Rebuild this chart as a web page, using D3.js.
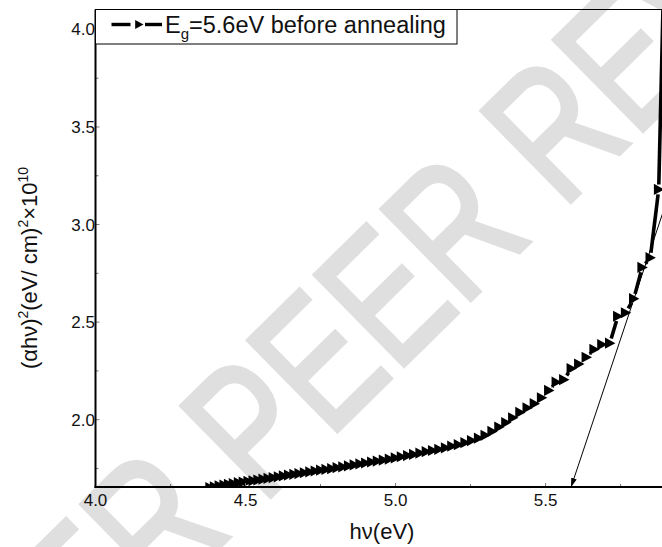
<!DOCTYPE html>
<html>
<head>
<meta charset="utf-8">
<script src="https://cdn.jsdelivr.net/npm/d3@7"></script>
<style>
  html, body { margin: 0; padding: 0; background: #fff; }
  svg { display: block; font-family: Arial, "Liberation Sans", sans-serif; }
</style>
</head>
<body>
<svg id="chart" width="662" height="547"></svg>
<script>
// ---- data ----
const photonEnergy = [
  4.382, 4.397, 4.413, 4.429, 4.444, 4.460, 4.477, 4.493, 4.509, 4.526,
  4.542, 4.559, 4.576, 4.593, 4.610, 4.627, 4.644, 4.662, 4.679, 4.697,
  4.715, 4.733, 4.751, 4.769, 4.788, 4.806, 4.825, 4.844, 4.863, 4.882,
  4.901, 4.921, 4.940, 4.960, 4.980, 5.000, 5.020, 5.041, 5.061, 5.082,
  5.103, 5.124, 5.145, 5.167, 5.188, 5.210, 5.232, 5.254, 5.277, 5.299,
  5.322, 5.345, 5.368, 5.391, 5.415, 5.439, 5.463, 5.487, 5.511, 5.536,
  5.561, 5.586, 5.611, 5.636, 5.662, 5.688, 5.714, 5.741, 5.767, 5.794,
  5.822, 5.849, 5.877, 5.905
];
const alphaHvSquared = [
  1.652, 1.656, 1.661, 1.665, 1.669, 1.673, 1.677, 1.680, 1.684, 1.687,
  1.691, 1.695, 1.699, 1.703, 1.707, 1.712, 1.716, 1.720, 1.724, 1.728,
  1.732, 1.737, 1.741, 1.745, 1.749, 1.754, 1.758, 1.763, 1.768, 1.773,
  1.778, 1.783, 1.788, 1.793, 1.798, 1.804, 1.810, 1.816, 1.822, 1.829,
  1.836, 1.842, 1.848, 1.856, 1.864, 1.872, 1.882, 1.893, 1.905, 1.920,
  1.940, 1.962, 1.985, 2.010, 2.037, 2.060, 2.082, 2.112, 2.150, 2.192,
  2.205, 2.262, 2.285, 2.320, 2.360, 2.385, 2.392, 2.530, 2.548, 2.620,
  2.780, 2.830, 3.180, 5.000
];
// tangent (extrapolation) line to the axis: Eg intercept
const tangentX = [5.585, 5.895];
const tangentY = [1.655, 3.08];

const xTickValues = [4.0, 4.5, 5.0, 5.5];
const xMinorTicks = [4.25, 4.75, 5.25, 5.75];
const yTickValues = [2.0, 2.5, 3.0, 3.5, 4.0];
const yMinorTicks = [1.75, 2.25, 2.75, 3.25, 3.75];
const legendLabel = { main: "E", sub: "g", rest: "=5.6eV before annealing" };
const xTitle = "hν(eV)";
const watermark = ["UNDER", "PEER REVIEW"];

(function () {
// ---- layout ----
const W = 662, H = 547;
const pL = 95.5, pR = 662, pT = 9.5, pB = 487;

const x = d3.scaleLinear().domain([4.0, 5.888]).range([pL, pR]);
const y = d3.scaleLinear().domain([1.655, 4.102]).range([pB, pT]);

const svg = d3.select("#chart");
svg.append("rect").attr("width", W).attr("height", H).attr("fill", "#fff");

// watermark
const wm = svg.append("g")
  .attr("transform", "translate(262,505) rotate(-44.5) scale(0.85,1.12)")
  .attr("fill", "#dfdfdf").attr("stroke", "#dfdfdf").attr("stroke-width", 4)
  .style("font-size", "165px");
wm.append("text").attr("x", -46).attr("text-anchor", "end").text(watermark[0]);
wm.append("text").attr("x", 0).attr("text-anchor", "start").text(watermark[1]);

// clip
svg.append("clipPath").attr("id", "plotclip")
  .append("rect").attr("x", pL).attr("y", pT)
  .attr("width", pR - pL).attr("height", pB - pT);

const plot = svg.append("g").attr("clip-path", "url(#plotclip)");

// curve line with gaps around symbols
const pts = photonEnergy.map((v, i) => [x(v), y(alphaHvSquared[i])]);
const gap = 5;
const segs = [];
for (let i = 0; i < pts.length - 1; i++) {
  const [x0, y0] = pts[i], [x1, y1] = pts[i + 1];
  const L = Math.hypot(x1 - x0, y1 - y0);
  if (L > 2 * gap + 1) {
    const ux = (x1 - x0) / L, uy = (y1 - y0) / L;
    segs.push([[x0 + ux * gap, y0 + uy * gap], [x1 - ux * gap, y1 - uy * gap]]);
  }
}
const line = d3.line();
plot.selectAll("path.seg").data(segs).join("path")
  .attr("class", "seg")
  .attr("d", d => line(d))
  .attr("stroke", "#000").attr("stroke-width", 3.6).attr("fill", "none");

// markers: right-pointing triangles
const tri = "M-4.8,-5.6L5.6,0L-4.8,5.6Z";
plot.selectAll("path.mk").data(pts).join("path")
  .attr("class", "mk")
  .attr("transform", d => `translate(${d[0]},${d[1]})`)
  .attr("d", tri).attr("fill", "#000");

// tangent line with arrow at the axis
svg.append("defs").append("marker")
  .attr("id", "arrow").attr("viewBox", "0 0 10 10")
  .attr("refX", 10).attr("refY", 5)
  .attr("markerWidth", 9).attr("markerHeight", 9)
  .attr("markerUnits", "userSpaceOnUse")
  .attr("orient", "auto")
  .append("path").attr("d", "M0,1.8L10,5L0,8.2Z").attr("fill", "#000");

plot.append("line")
  .attr("x1", x(tangentX[1])).attr("y1", y(tangentY[1]))
  .attr("x2", x(tangentX[0])).attr("y2", y(tangentY[0]))
  .attr("stroke", "#000").attr("stroke-width", 1)
  .attr("marker-end", "url(#arrow)");

// axes
const axisG = svg.append("g");
axisG.selectAll("line.xt").data(xTickValues.concat(xMinorTicks)).join("line")
  .attr("x1", d => x(d)).attr("x2", d => x(d))
  .attr("y1", pB).attr("y2", d => pB - (xTickValues.includes(d) ? 4 : 3))
  .attr("stroke", "#777").attr("stroke-width", 1);
axisG.selectAll("line.yt").data(yTickValues.concat(yMinorTicks)).join("line")
  .attr("y1", d => y(d)).attr("y2", d => y(d))
  .attr("x1", pL).attr("x2", d => pL + (yTickValues.includes(d) ? 4 : 3))
  .attr("stroke", "#777").attr("stroke-width", 1);

axisG.append("line").attr("x1", pL).attr("x2", pR)
  .attr("y1", pT).attr("y2", pT).attr("stroke", "#000").attr("stroke-width", 1.2);
axisG.append("line").attr("x1", pL).attr("x2", pL)
  .attr("y1", pT).attr("y2", pB + 1).attr("stroke", "#000").attr("stroke-width", 2);
axisG.append("line").attr("x1", pL - 1).attr("x2", pR)
  .attr("y1", pB).attr("y2", pB).attr("stroke", "#000").attr("stroke-width", 2.2);

// tick labels
const fmt = d3.format(".1f");
svg.append("g").selectAll("text").data(xTickValues).join("text")
  .attr("x", d => x(d)).attr("y", pB + 19)
  .attr("text-anchor", "middle").style("font-size", "17px").attr("fill", "#111")
  .text(fmt);
svg.append("g").selectAll("text").data(yTickValues).join("text")
  .attr("x", pL - 0.5).attr("y", d => y(d) + 6)
  .attr("text-anchor", "end").style("font-size", "17px").attr("fill", "#111")
  .text(fmt);

// axis titles
svg.append("text").attr("x", 382).attr("y", 539)
  .attr("text-anchor", "middle").style("font-size", "22px").attr("fill", "#111")
  .text(xTitle);

const yt = svg.append("text")
  .attr("transform", "translate(37,268) rotate(-90)")
  .attr("text-anchor", "middle").style("font-size", "22px").attr("fill", "#111");
yt.append("tspan").text("(αhν)");
yt.append("tspan").attr("dy", -9).style("font-size", "14px").text("2");
yt.append("tspan").attr("dy", 9).text("(eV/ cm)");
yt.append("tspan").attr("dy", -9).style("font-size", "14px").text("2");
yt.append("tspan").attr("dy", 9).text("×10");
yt.append("tspan").attr("dy", -9).style("font-size", "14px").text("10");

// legend
const lg = svg.append("g");
lg.append("rect").attr("x", pL).attr("y", pT).attr("width", 457 - pL).attr("height", 44 - pT)
  .attr("fill", "#fff").attr("stroke", "#000").attr("stroke-width", 1);
lg.append("line").attr("x1", 111.5).attr("x2", 130.5).attr("y1", 24.5).attr("y2", 24.5)
  .attr("stroke", "#000").attr("stroke-width", 3.4);
lg.append("line").attr("x1", 145).attr("x2", 162).attr("y1", 24.5).attr("y2", 24.5)
  .attr("stroke", "#000").attr("stroke-width", 3.4);
lg.append("path").attr("transform", "translate(139,24.5) scale(0.8)").attr("d", tri).attr("fill", "#000");
const lt = lg.append("text").attr("x", 165).attr("y", 33).style("font-size", "23.5px").attr("fill", "#111");
lt.append("tspan").text(legendLabel.main);
lt.append("tspan").attr("dy", 6).style("font-size", "15px").text(legendLabel.sub);
lt.append("tspan").attr("dy", -6).text(legendLabel.rest);
})();
</script>
</body>
</html>
